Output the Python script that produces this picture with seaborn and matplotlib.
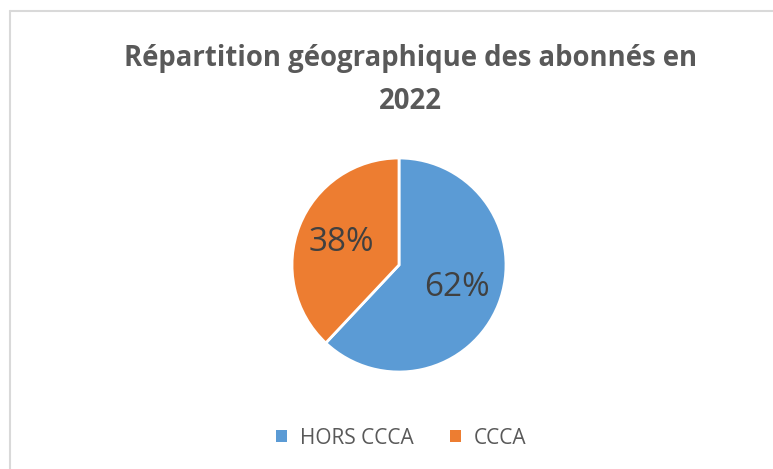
import matplotlib
matplotlib.use("Agg")
import matplotlib.pyplot as plt
import seaborn as sns
from matplotlib.lines import Line2D
from matplotlib.patches import Patch

# --- Data ---
categories = ["HORS CCCA", "CCCA"]
shares = [62, 38]
title = "Répartition géographique des abonnés en\n2022"

sns.set_theme(style="white")
plt.rcParams["font.family"] = ["Open Sans", "DejaVu Sans"]

colors = ["#5B9BD5", "#ED7D31"]
text_gray = "#595959"

W, H = 773, 469
fig = plt.figure(figsize=(W / 100, H / 100), dpi=100)

# Chart-area border (open to the right and bottom, as in the crop)
fig.add_artist(Line2D([10 / W, 1], [1 - 11 / H, 1 - 11 / H], color="#d9d9d9", lw=1.5))
fig.add_artist(Line2D([10 / W, 10 / W], [0, 1 - 11 / H], color="#d9d9d9", lw=1.5))

# Pie axes: centre (399, 265) px, radius 107 px
cx, cy, r = 399, 265, 107
ax = fig.add_axes([(cx - r) / W, (H - cy - r) / H, 2 * r / W, 2 * r / H])
wedges, _, autotexts = ax.pie(
    shares,
    colors=colors,
    startangle=90,
    counterclock=False,
    autopct="%1.0f%%",
    pctdistance=0.58,
    wedgeprops=dict(edgecolor="white", linewidth=2),
    textprops=dict(color="#404040", fontsize=24),
)
ax.set_xlim(-1, 1)
ax.set_ylim(-1, 1)
ax.set_aspect("equal")
ax.axis("off")

fig.text(0.531, 1 - 80 / H, title, ha="center", va="center",
         fontsize=19.8, fontweight="bold", color=text_gray, linespacing=1.6)

handles = [Patch(facecolor=c, edgecolor="none") for c in colors]
fig.legend(handles, categories, loc="center", bbox_to_anchor=(0.519, 1 - 438 / H),
           ncol=2, frameon=False, fontsize=15, labelcolor=text_gray,
           handlelength=0.55, handleheight=0.55, handletextpad=0.6, columnspacing=1.75)

fig.savefig("out.png", dpi=100)
